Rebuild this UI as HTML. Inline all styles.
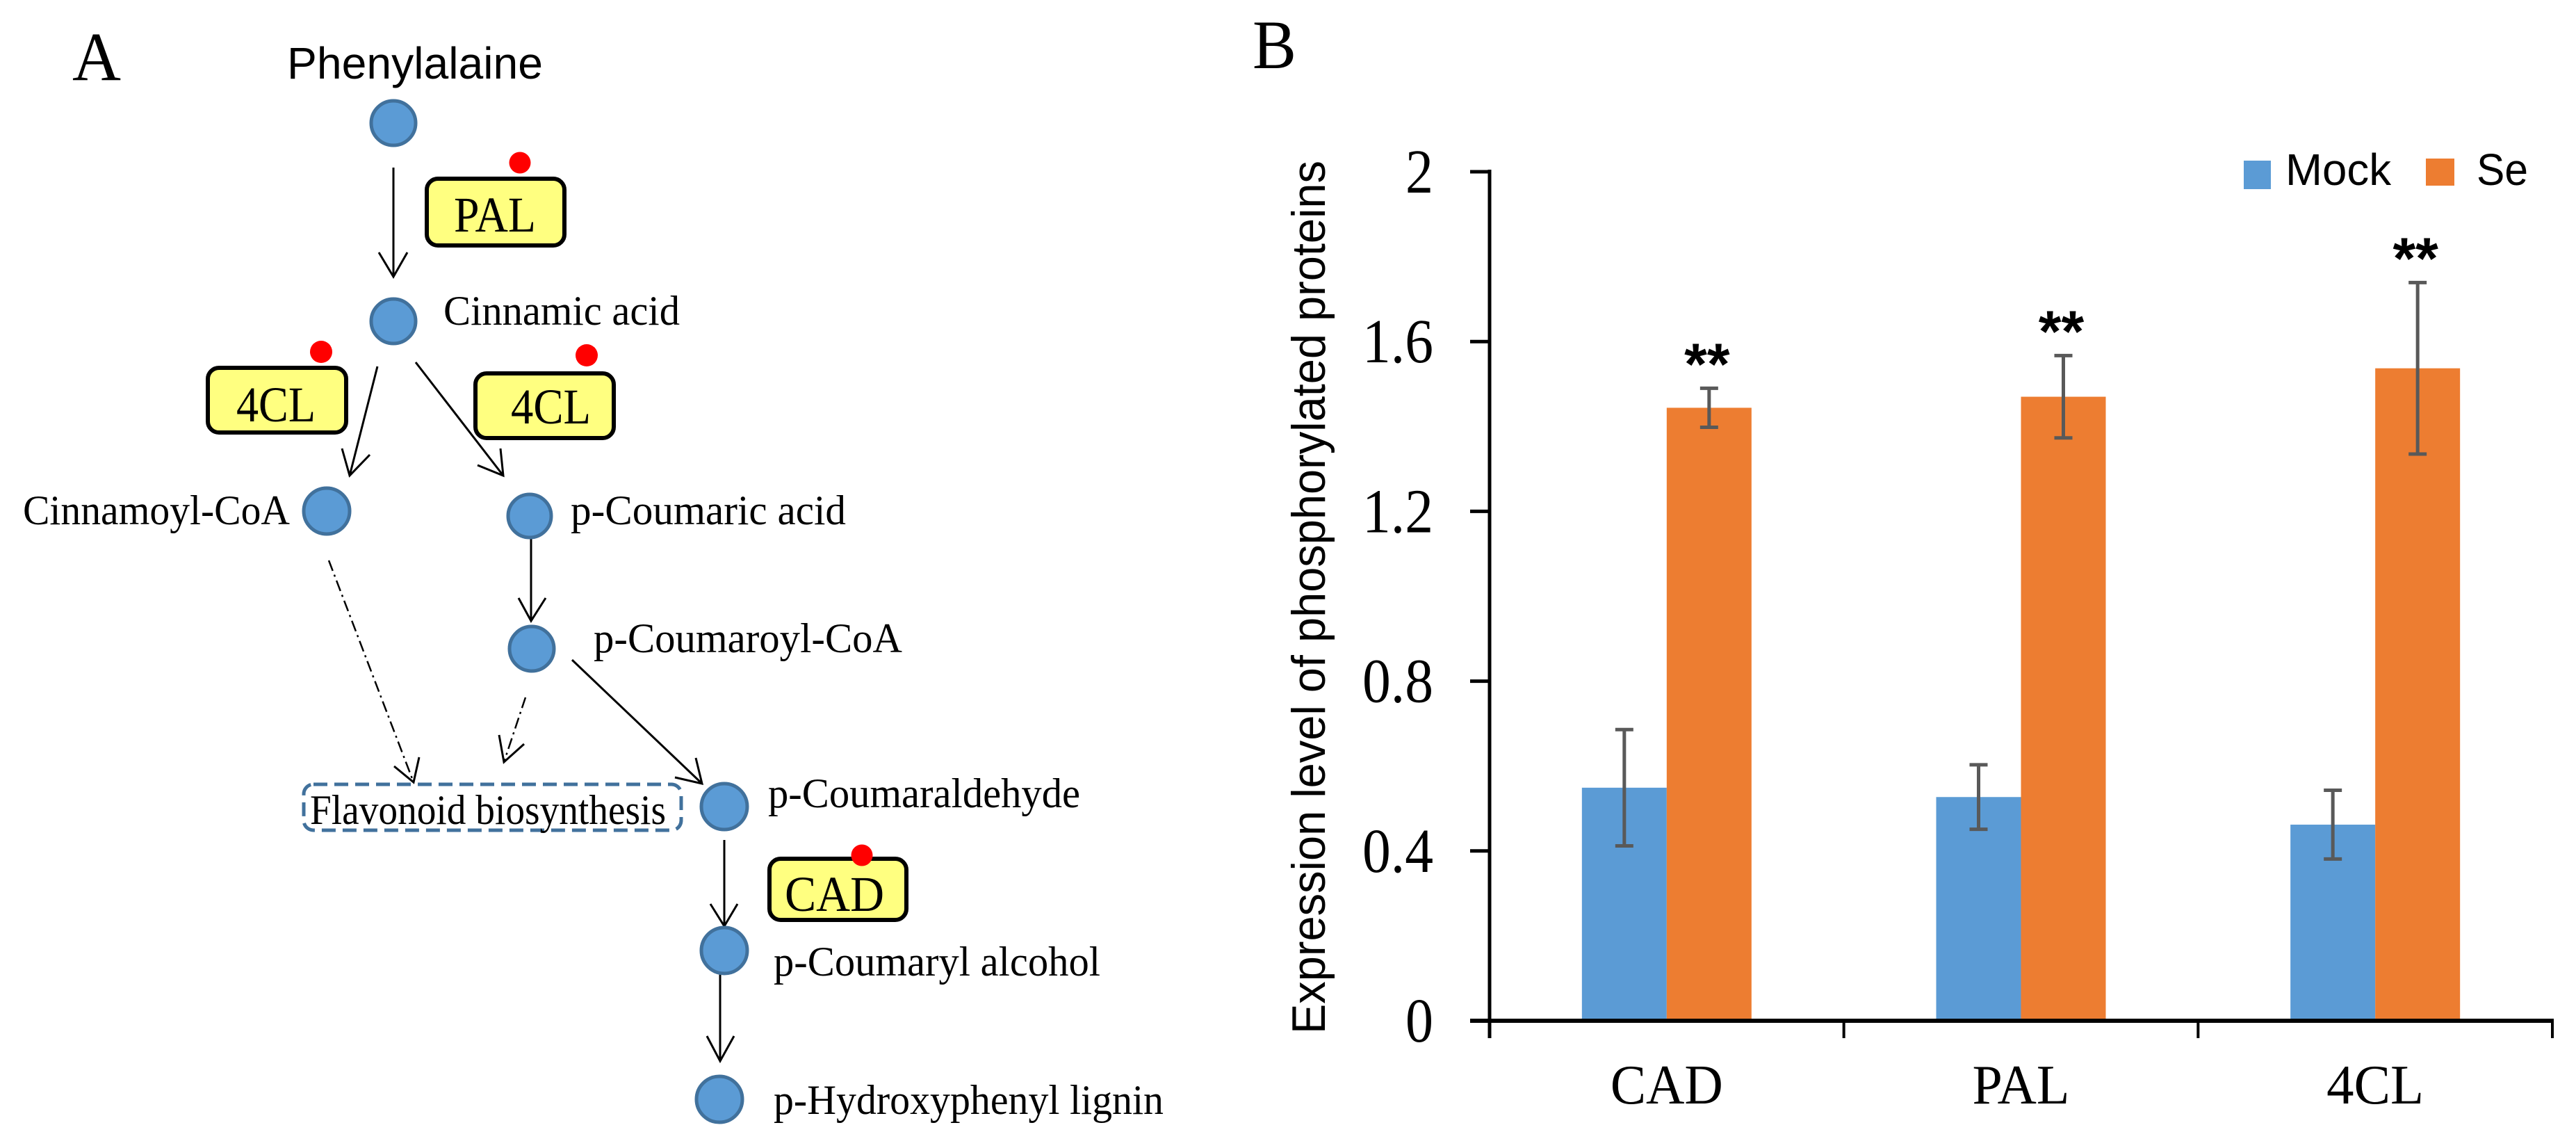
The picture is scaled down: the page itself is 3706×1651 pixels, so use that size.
<!DOCTYPE html>
<html lang="en">
<head>
<meta charset="utf-8">
<title>Phenylpropanoid pathway and phosphorylated protein expression</title>
<style>
html,body{margin:0;padding:0;background:#fff;width:3706px;height:1651px;overflow:hidden}
svg{display:block}
.serif{font-family:"Liberation Serif",serif;fill:#000}
.sans{font-family:"Liberation Sans",sans-serif;fill:#000}
.node{fill:#5b9bd5;stroke:#41719c;stroke-width:5}
.enzyme{fill:#ffff80;stroke:#000;stroke-width:6}
.dot{fill:#ff0000}
.arrow{fill:none;stroke:#000;stroke-width:3}
.dashed{fill:none;stroke:#000;stroke-width:2.5;stroke-dasharray:16 6 3 6}
.lbl{font-size:60px}
.enz{font-size:72px}
</style>
</head>
<body>
<svg id="figure" xmlns="http://www.w3.org/2000/svg" width="3706" height="1651" viewBox="0 0 3706 1651">
<rect width="3706" height="1651" fill="#fff"/>

<g id="panel-a">
  <text class="serif" x="104" y="115" font-size="100" textLength="70" lengthAdjust="spacingAndGlyphs">A</text>
  <text class="sans" x="413" y="113" font-size="64" textLength="368" lengthAdjust="spacingAndGlyphs">Phenylalaine</text>

  <g>
    <path class="arrow" d="M566 241L566 398M545 363L566 398L586 363"/>
    <path class="arrow" d="M543 527L503 684M492 645L503 684L532 654"/>
    <path class="arrow" d="M598 521L724 684M687 669L724 684L720 645"/>
    <path class="arrow" d="M764 770L764 893M746 860L764 893L785 860"/>
    <path class="dashed" d="M473 806L595 1125"/>
    <path class="arrow" d="M567 1102L595 1125L603 1089"/>
    <path class="dashed" d="M756 1003L725 1096"/>
    <path class="arrow" d="M718 1057L725 1096L754 1070"/>
    <path class="arrow" d="M823 949L1010 1127M971 1118L1010 1127L1001 1090"/>
    <path class="arrow" d="M1042 1208L1042 1332M1022 1300L1042 1332L1061 1300"/>
    <path class="arrow" d="M1036 1401L1036 1526M1017 1490L1036 1526L1056 1490"/>
  </g>

  <g>
    <circle class="node" cx="566" cy="177" r="32"/>
    <circle class="node" cx="566" cy="462" r="32"/>
    <circle class="node" cx="470" cy="735" r="33"/>
    <circle class="node" cx="762" cy="742" r="31"/>
    <circle class="node" cx="765" cy="933" r="32"/>
    <circle class="node" cx="1042" cy="1160" r="33"/>
    <circle class="node" cx="1042" cy="1367" r="33"/>
    <circle class="node" cx="1035" cy="1581" r="33"/>
  </g>

  <g>
    <text class="serif lbl" x="638" y="467" textLength="340" lengthAdjust="spacingAndGlyphs">Cinnamic acid</text>
    <text class="serif lbl" x="33" y="754" textLength="384" lengthAdjust="spacingAndGlyphs">Cinnamoyl-CoA</text>
    <text class="serif lbl" x="821" y="754" textLength="396" lengthAdjust="spacingAndGlyphs">p-Coumaric acid</text>
    <text class="serif lbl" x="854" y="938" textLength="444" lengthAdjust="spacingAndGlyphs">p-Coumaroyl-CoA</text>
    <text class="serif lbl" x="1105" y="1161" textLength="449" lengthAdjust="spacingAndGlyphs">p-Coumaraldehyde</text>
    <text class="serif lbl" x="1113" y="1403" textLength="470" lengthAdjust="spacingAndGlyphs">p-Coumaryl alcohol</text>
    <text class="serif lbl" x="1113" y="1602" textLength="561" lengthAdjust="spacingAndGlyphs">p-Hydroxyphenyl  lignin</text>
  </g>

  <g>
    <rect x="437" y="1128" width="543" height="66" rx="14" fill="none" stroke="#41719c" stroke-width="5" stroke-dasharray="20 10"/>
    <text class="serif lbl" x="446" y="1185" textLength="512" lengthAdjust="spacingAndGlyphs">Flavonoid biosynthesis</text>
  </g>

  <g>
    <rect class="enzyme" x="614" y="257" width="198" height="96" rx="16"/>
    <text class="serif enz" x="653" y="333" textLength="118" lengthAdjust="spacingAndGlyphs">PAL</text>
    <circle class="dot" cx="748" cy="234" r="15.5"/>
  </g>
  <g>
    <rect class="enzyme" x="299" y="529" width="199" height="93" rx="16"/>
    <text class="serif enz" x="340" y="606" textLength="114" lengthAdjust="spacingAndGlyphs">4CL</text>
    <circle class="dot" cx="462" cy="506" r="16"/>
  </g>
  <g>
    <rect class="enzyme" x="684" y="537" width="199" height="93" rx="16"/>
    <text class="serif enz" x="735" y="609" textLength="115" lengthAdjust="spacingAndGlyphs">4CL</text>
    <circle class="dot" cx="844" cy="511" r="16"/>
  </g>
  <g>
    <rect class="enzyme" x="1107" y="1235" width="197" height="88" rx="16"/>
    <text class="serif enz" x="1129" y="1310" textLength="143" lengthAdjust="spacingAndGlyphs">CAD</text>
    <circle class="dot" cx="1240" cy="1230" r="15.5"/>
  </g>
</g>

<g id="panel-b">
  <text class="serif" x="1802" y="98" font-size="100" textLength="63" lengthAdjust="spacingAndGlyphs">B</text>
  <text class="sans" transform="translate(1906,1487) rotate(-90)" font-size="68" textLength="1256" lengthAdjust="spacingAndGlyphs">Expression level of phosphorylated proteins</text>
  <g id="bars"></g>
  <g id="errors"></g>
  <g id="axes"></g>
  <g>
    <rect x="3228" y="231" width="39" height="41" fill="#5b9bd5"/>
    <text class="sans" x="3288" y="266" font-size="64" textLength="152" lengthAdjust="spacingAndGlyphs">Mock</text>
    <rect x="3490" y="228" width="41" height="39" fill="#ed7d31"/>
    <text class="sans" x="3563" y="266" font-size="64" textLength="74" lengthAdjust="spacingAndGlyphs">Se</text>
  </g>
</g>
</svg>

<script>
const categories = ['CAD', 'PAL', '4CL'];
const mockValues = [0.549, 0.527, 0.462];
const seValues = [1.444, 1.470, 1.537];
const mockErrors = [0.137, 0.076, 0.081];
const seErrors = [0.046, 0.097, 0.202];
const significance = ['**', '**', '**'];
const yTicks = [0, 0.4, 0.8, 1.2, 1.6, 2];
const yTickLabels = ['0', '0.4', '0.8', '1.2', '1.6', '2'];

const plotLeft = 2143;
const plotRight = 3672;
const plotBottom = 1468;
const plotTop = 247;
const yMax = 2;
const barWidth = 122;
const NS = 'http://www.w3.org/2000/svg';

function yScale(v) {
  return plotBottom - (v / yMax) * (plotBottom - plotTop);
}
function bandEdge(i) {
  return plotLeft + i * (plotRight - plotLeft) / categories.length;
}
function bandCenter(i) {
  return (bandEdge(i) + bandEdge(i + 1)) / 2;
}
function create(tag, parent, props) {
  const el = document.createElementNS(NS, tag);
  Object.keys(props).forEach(function (k) { el.setAttribute(k, props[k]); });
  parent.appendChild(el);
  return el;
}

const barsG = document.getElementById('bars');
const errorsG = document.getElementById('errors');
const axesG = document.getElementById('axes');

categories.forEach(function (cat, i) {
  const cx = bandCenter(i);
  const key = cat.toLowerCase();

  const mockBar = create('rect', barsG, { x: cx - barWidth, y: yScale(mockValues[i]), width: barWidth, height: plotBottom - yScale(mockValues[i]), fill: '#5b9bd5' });
  
  

  const seBar = create('rect', barsG, { x: cx, y: yScale(seValues[i]), width: barWidth, height: plotBottom - yScale(seValues[i]), fill: '#ed7d31' });
  
  

  const mockX = cx - barWidth / 2;
  const mockHi = yScale(mockValues[i] + mockErrors[i]);
  const mockLo = yScale(mockValues[i] - mockErrors[i]);
  const mockErr = create('path', errorsG, { d: 'M' + mockX + ' ' + mockHi + 'V' + mockLo + 'M' + (mockX - 13) + ' ' + mockHi + 'H' + (mockX + 13) + 'M' + (mockX - 13) + ' ' + mockLo + 'H' + (mockX + 13), fill: 'none', stroke: '#595959', 'stroke-width': 5 });
  
  

  const seX = cx + barWidth / 2;
  const seHi = yScale(seValues[i] + seErrors[i]);
  const seLo = yScale(seValues[i] - seErrors[i]);
  const seErr = create('path', errorsG, { d: 'M' + seX + ' ' + seHi + 'V' + seLo + 'M' + (seX - 13) + ' ' + seHi + 'H' + (seX + 13) + 'M' + (seX - 13) + ' ' + seLo + 'H' + (seX + 13), fill: 'none', stroke: '#595959', 'stroke-width': 5 });
  
  

  const star = create('text', errorsG, { x: seX - 3, y: seHi - 6, 'text-anchor': 'middle', 'font-size': 84, 'font-weight': 'bold', class: 'sans' });
  star.textContent = significance[i];
  
  

  const label = create('text', axesG, { x: cx, y: 1587, 'text-anchor': 'middle', 'font-size': 80, class: 'serif', textLength: cat === 'CAD' ? 162 : 140, lengthAdjust: 'spacingAndGlyphs' });
  label.textContent = cat;
  
  
});

const yAxis = create('line', axesG, { x1: plotLeft, x2: plotLeft, y1: plotTop - 3, y2: 1493, stroke: '#000', 'stroke-width': 5 });



const xAxis = create('line', axesG, { x1: 2115, x2: plotRight + 2, y1: plotBottom, y2: plotBottom, stroke: '#000', 'stroke-width': 6 });



yTicks.forEach(function (t, i) {
  const ty = yScale(t);
  const tick = create('line', axesG, { x1: 2115, x2: plotLeft, y1: ty, y2: ty, stroke: '#000', 'stroke-width': 5 });
  
  

  const lab = create('text', axesG, { x: 2062, y: ty + 30, 'text-anchor': 'end', 'font-size': 90, class: 'serif', textLength: yTickLabels[i].length === 1 ? 40 : 102, lengthAdjust: 'spacingAndGlyphs' });
  lab.textContent = yTickLabels[i];
  
  
});

for (let i = 1; i <= categories.length; i++) {
  const xt = create('line', axesG, { x1: bandEdge(i), x2: bandEdge(i), y1: plotBottom, y2: 1493, stroke: '#000', 'stroke-width': 4 });
  
  
}
</script>
</body>
</html>
